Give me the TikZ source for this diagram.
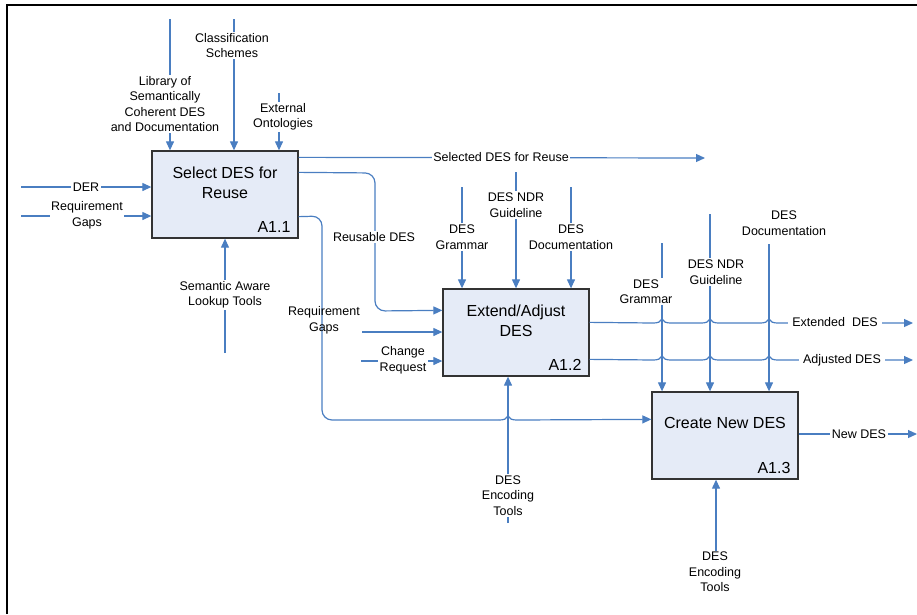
\documentclass[tikz,border=0pt]{standalone}
\usepackage{fontspec}
\setmainfont{Liberation Sans}
\usepackage{tikz}
\usetikzlibrary{calc,arrows.meta,positioning}

\definecolor{flowblue}{RGB}{74,126,193}
\definecolor{boxfill}{RGB}{229,235,247}

\newcommand{\linehop}[2]{-- (#1-9,#2) .. controls (#1-4,#2) and (#1-1.5,#2-1) .. (#1,#2-4)
  .. controls (#1+1.5,#2-1) and (#1+4,#2) .. (#1+9,#2)}

\tikzset{
  fn/.style={draw=black!80, line width=1.3pt, fill=boxfill,
    minimum width=146pt, minimum height=87pt, inner sep=0pt},
  fntitle/.style={font=\fontsize{16}{20}\selectfont, align=center, inner sep=0pt},
  fnid/.style={font=\fontsize{16}{20}\selectfont, inner sep=0pt, anchor=base east},
  flow/.style={draw=flowblue, line width=1.2pt, -{Triangle[length=9pt,width=8pt]}},
  plain/.style={draw=flowblue, line width=1.2pt},
  lab/.style={font=\fontsize{12.5}{15.5}\selectfont, align=center, fill=white, inner sep=1.5pt},
  bare/.style={lab, fill=none},
}

\begin{document}
\begin{tikzpicture}[x=1pt, y=-1pt]
  \useasboundingbox (0,0) rectangle (917,614);
  \draw[line width=2pt] (7,614) -- (7,5) -- (917,5);

  \node[fn] (a11) at (225,194.5) {};
  \node[fn] (a12) at (516,332.5) {};
  \node[fn] (a13) at (725,435.5) {};
  \node[fntitle] (a11t) at ($(a11.north)+(0,32)$) {Select DES for\\Reuse};
  \node[fntitle] (a12t) at ($(a12.north)+(0,32)$) {Extend/Adjust\\DES};
  \node[fntitle] (a13t) at ($(a13.north)+(0,32)$) {Create New DES};
  \node[fnid] (a11id) at ($(a11.south east)+(-8,-6)$) {A1.1};
  \node[fnid] (a12id) at ($(a12.south east)+(-8,-6)$) {A1.2};
  \node[fnid] (a13id) at ($(a13.south east)+(-8,-6)$) {A1.3};

  \coordinate (lib) at (170,19);
  \coordinate (cls) at (234,19);
  \coordinate (ont) at (279,93);
  \coordinate (der) at (21,187);
  \coordinate (gap) at (21,216);
  \coordinate (sem) at (225,353);
  \coordinate (gap2) at (362,332);
  \coordinate (chg) at (361,361);
  \coordinate (gram) at (462,187);
  \coordinate (ndr) at (516,172);
  \coordinate (doc) at (571,187);
  \coordinate (enc) at (508,523);
  \coordinate (gram2) at (662,243);
  \coordinate (ndr2) at (710,214);
  \coordinate (doc2) at (769,244);
  \coordinate (enc2) at (716,551);
  \coordinate (sel) at (705,158);
  \coordinate (extd) at (913,323);
  \coordinate (adjd) at (913,360);
  \coordinate (newd) at (917,434);
  \coordinate (hopA) at (499,420);

  \path (lib)  edge[flow] (lib |- a11.north)
        (cls)  edge[flow] (cls |- a11.north)
        (ont)  edge[flow] (ont |- a11.north)
        (der)  edge[flow] (der -| a11.west)
        (gap)  edge[flow] (gap -| a11.west)
        (sem)  edge[flow] (sem |- a11.south)
        (gap2) edge[flow] (gap2 -| a12.west)
        (chg)  edge[flow] (chg -| a12.west)
        (gram) edge[flow] (gram |- a12.north)
        (ndr)  edge[flow] (ndr |- a12.north)
        (doc)  edge[flow] (doc |- a12.north)
        (enc)  edge[flow] (enc |- a12.south)
        (gram2) edge[flow] (gram2 |- a13.north)
        (ndr2) edge[flow] (ndr2 |- a13.north)
        (doc2) edge[flow] (doc2 |- a13.north)
        (enc2) edge[flow] (enc2 |- a13.south)
        (a13.east |- newd) edge[flow] (newd);

  \draw[flow] ($(a11.north east)+(0,7)$) -- (sel);
  \draw[flow, rounded corners=10pt] ($(a11.north east)+(0,22)$) -- (375,173) -- (375,311)
    -- ($(a12.north west)+(0,22)$);
  \draw[plain, rounded corners=10pt] ($(a11.south east)+(0,-22)$) -- (322,216) -- (322,420) -- (hopA);
  \draw[flow] (hopA) \linehop{508}{420} -- ($(a13.north west)+(0,28)$);
  \draw[flow] ($(a12.north east)+(0,34)$) \linehop{662}{323} \linehop{710}{323} \linehop{769}{323} -- (extd);
  \draw[flow] ($(a12.north east)+(0,71)$) \linehop{662}{360} \linehop{710}{360} \linehop{769}{360} -- (adjd);

  \node[lab] (lLib) at (165,104) {Library of\\Semantically\\Coherent DES\\and Documentation};
  \node[lab] (lCls) at (232,45.5) {Classification\\Schemes};
  \node[lab] (lOnt) at (283,117) {External\\Ontologies};
  \node[lab] (lDer) at (86,187) {DER};
  \node[lab] (lGap) at (87,215.5) {Requirement\\Gaps};
  \node[lab] (lSem) at (225,295) {Semantic Aware\\Lookup Tools};
  \node[lab] (lSel) at (501,157) {Selected DES for Reuse};
  \node[lab] (lReu) at (374,237) {Reusable DES};
  \node[bare] (lGap2) at (324,320.5) {Requirement\\Gaps};
  \node[lab] (lChg) at (403,360.5) {Change\\Request};
  \node[lab] (lGram) at (462,237) {DES\\Grammar};
  \node[lab] (lNdr) at (516,205) {DES NDR\\Guideline};
  \node[lab] (lDoc) at (571,237) {DES\\Documentation};
  \node[lab] (lEnc) at (508,495.5) {DES\\Encoding\\Tools};
  \node[lab, inner sep=4pt] (lExtd) at (835,322) {Extended\ \ DES};
  \node[lab, inner sep=4pt] (lAdjd) at (842,360) {Adjusted DES};
  \node[lab] (lGram2) at (646,291.5) {DES\\Grammar};
  \node[lab] (lNdr2) at (716,272) {DES NDR\\Guideline};
  \node[lab] (lDoc2) at (784,223) {DES\\Documentation};
  \node[lab] (lNew) at (859,434) {New DES};
  \node[lab] (lEnc2) at (715,572) {DES\\Encoding\\Tools};
\end{tikzpicture}
\end{document}
